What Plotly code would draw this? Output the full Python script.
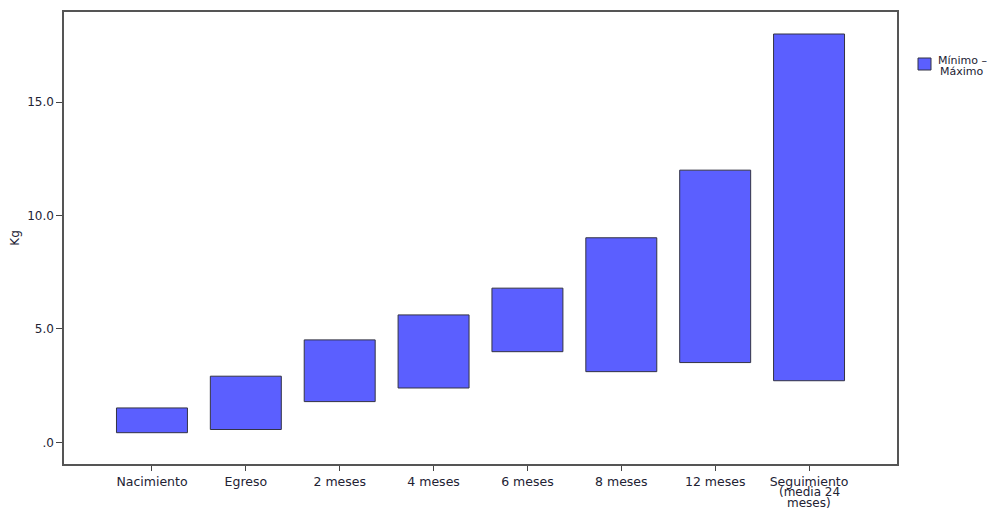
import plotly.graph_objects as go

categories = ["Nacimiento", "Egreso", "2 meses", "4 meses", "6 meses", "8 meses", "12 meses",
              "Seguimiento"]
last_label_extra = ["(media 24", "meses)"]
minimos = [0.43, 0.57, 1.8, 2.4, 4.0, 3.12, 3.52, 2.72]
maximos = [1.52, 2.92, 4.52, 5.62, 6.8, 9.02, 12.0, 18.0]
y_ticks = [0, 5, 10, 15]
y_tick_labels = [".0", "5.0", "10.0", "15.0"]
legend_lines = ["Mínimo –", "Máximo"]

bar_color = "#5b5fff"
text_color = "#222233"
xs = list(range(len(categories)))

# the page adds an 8px body margin; plot area is placed so it lands on the reference pixels
W, H = 987, 500
L, T, PW, PH = 56, 4, 833, 452


def px_x(X):  # screenshot x -> paper x
    return (X - 8 - L) / PW


def px_y(Y):  # screenshot y -> paper y
    return (T + PH - (Y - 8)) / PH


fig = go.Figure()
fig.add_trace(go.Bar(
    x=xs,
    y=[mx - mn for mn, mx in zip(minimos, maximos)],
    base=minimos,
    width=0.756,
    marker=dict(color=bar_color, line=dict(color="#333344", width=1)),
    name=" ".join(legend_lines),
    showlegend=False,
    hoverinfo="skip",
))

font_fam = "DejaVu Sans, Verdana, sans-serif"
fig.update_layout(
    width=W, height=H,
    margin=dict(l=L, r=W - L - PW, t=T, b=H - T - PH, autoexpand=False),
    plot_bgcolor="white", paper_bgcolor="white",
    font=dict(family=font_fam, size=12, color=text_color),
    xaxis=dict(
        range=[-0.937, 7.937], tickmode="array", tickvals=xs, ticktext=categories,
        showline=True, linecolor="#555555", linewidth=1.5, mirror=True,
        ticks="outside", ticklen=5, tickcolor="#444444", showgrid=False, zeroline=False,
        tickfont=dict(size=12.5), tickangle=0, automargin=False,
    ),
    yaxis=dict(
        range=[-0.95, 18.97], tickmode="array", tickvals=y_ticks, ticktext=y_tick_labels,
        showline=True, linecolor="#555555", linewidth=1.5, mirror=True,
        ticks="outside", ticklen=6, tickcolor="#444444", showgrid=False, zeroline=False,
        title=dict(text="Kg", font=dict(size=12)),
        tickfont=dict(size=12), automargin=False,
    ),
    showlegend=False,
)

# remaining lines of the last category label (tight line spacing as in the reference)
for i, line in enumerate(last_label_extra):
    fig.add_annotation(xref="x", yref="paper", x=xs[-1], y=px_y(491.5 + 11.5 * i),
                       text=line, showarrow=False, xanchor="center", yanchor="middle",
                       font=dict(size=12, color=text_color))

# legend key (drawn manually to match the compact reference legend)
fig.add_shape(type="rect", xref="paper", yref="paper",
              x0=px_x(918), x1=px_x(931), y0=px_y(70), y1=px_y(58),
              fillcolor=bar_color, line=dict(color="#333344", width=1))
for i, line in enumerate(legend_lines):
    fig.add_annotation(xref="paper", yref="paper", x=px_x(962), y=px_y(60.5 + 11 * i),
                       text=line, showarrow=False, xanchor="center", yanchor="middle",
                       font=dict(size=11, color=text_color))
fig.write_html("out.html")
